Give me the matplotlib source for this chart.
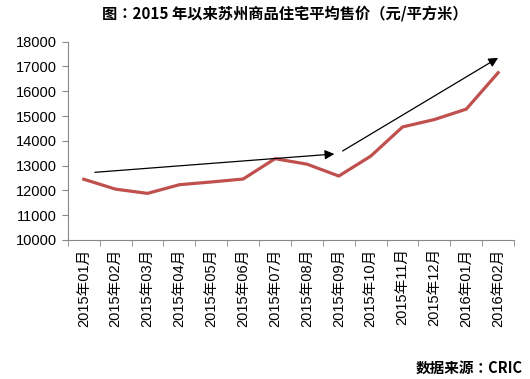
import matplotlib
matplotlib.use("Agg")
import matplotlib.pyplot as plt

plt.rcParams['font.family'] = ['Liberation Sans', 'Noto Sans CJK SC', 'DejaVu Sans']

months = ["2015年01月", "2015年02月", "2015年03月", "2015年04月", "2015年05月",
          "2015年06月", "2015年07月", "2015年08月", "2015年09月", "2015年10月",
          "2015年11月", "2015年12月", "2016年01月", "2016年02月"]
prices = [12450, 12050, 11880, 12230, 12340, 12460, 13280, 13060, 12580,
          13380, 14560, 14860, 15280, 16750]
yticks = [10000, 11000, 12000, 13000, 14000, 15000, 16000, 17000, 18000]

# trend arrows (start index, start value, end index, end value)
arrow1 = [0.35, 12730, 7.86, 13470]
arrow2 = [8.12, 13590, 13.0, 17350]

title = "图：2015 年以来苏州商品住宅平均售价（元/平方米）"
source = "数据来源：CRIC"

fig = plt.figure(figsize=(5.3, 3.79), dpi=100)
ax = fig.add_axes([0.128, 0.3668, 0.842, 0.5232])

x = list(range(len(months)))
ax.plot(x, prices, color='#C0504D', lw=2.3, solid_joinstyle='round')

for a in (arrow1, arrow2):
    ax.annotate("", xy=(a[2], a[3]), xytext=(a[0], a[1]),
                arrowprops=dict(arrowstyle='-|>', color='black', lw=0.9,
                                mutation_scale=14, shrinkA=0, shrinkB=0))

ax.set_xlim(-0.5, len(months) - 0.5)
ax.set_ylim(10000, 18000)
ax.set_yticks(yticks)
ax.set_yticklabels([str(v) for v in yticks], fontsize=10.5)
ax.set_xticks(x)
ax.set_xticklabels(months, rotation=90, fontsize=10.5)
ax.set_xticks([i - 0.5 for i in range(len(months) + 1)], minor=True)
ax.tick_params(axis='x', which='major', length=0, pad=6)
ax.tick_params(axis='x', which='minor', length=4, color='#888888', direction='out')
ax.tick_params(axis='y', length=4, color='#888888', direction='out', pad=4)

for s in ['top', 'right']:
    ax.spines[s].set_visible(False)
for s in ['left', 'bottom']:
    ax.spines[s].set_color('#888888')
    ax.spines[s].set_linewidth(0.8)

fig.text(0.538, 0.963, title, ha='center', va='center', fontsize=11,
         fontweight='bold', family=['Noto Sans CJK TC', 'DejaVu Sans'])
fig.text(0.987, 0.031, source, ha='right', va='center', fontsize=10.5,
         fontweight='bold', family=['Noto Sans CJK TC', 'DejaVu Sans'])

fig.savefig("out.png", dpi=100, facecolor='white')
